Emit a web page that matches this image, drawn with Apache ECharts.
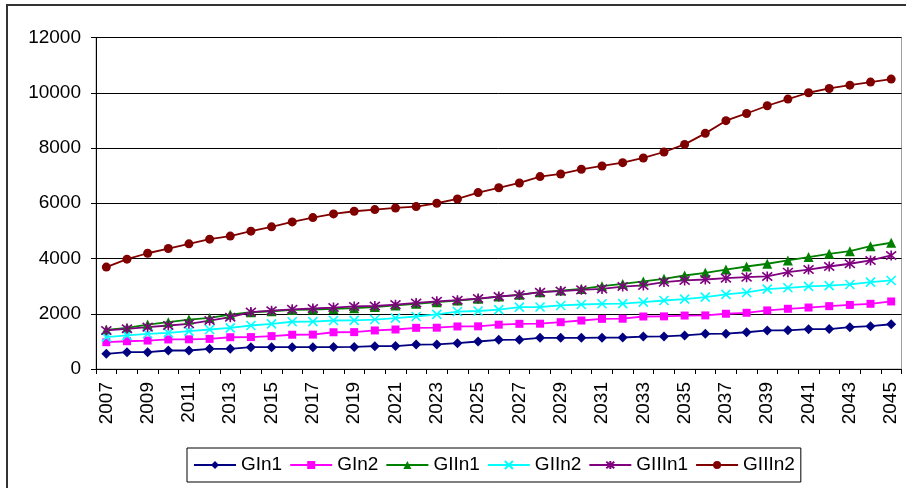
<!DOCTYPE html>
<html>
<head>
<meta charset="utf-8">
<script src="https://cdn.jsdelivr.net/npm/echarts@6/dist/echarts.min.js"></script>
<style>
html,body{margin:0;padding:0;background:#fff;}
#chart{width:906px;height:488px;}
</style>
</head>
<body>
<div id="chart"></div>
<script>
var years = [];
for (var y = 2007; y <= 2045; y++) years.push(String(y));

var yTicks = [0, 2000, 4000, 6000, 8000, 10000, 12000];

var gIn1 = [550, 610, 610, 670, 670, 730, 730, 790, 790, 790, 790, 795, 800, 825, 830, 885, 890, 935, 995, 1055,
  1060, 1130, 1130, 1130, 1135, 1140, 1175, 1180, 1215, 1275, 1280, 1330, 1395, 1400, 1440, 1445, 1515, 1550, 1620];
var gIn2 = [970, 1005, 1030, 1070, 1075, 1090, 1150, 1155, 1190, 1240, 1245, 1330, 1335, 1395, 1430, 1490, 1495, 1540, 1545, 1605,
  1635, 1640, 1695, 1755, 1815, 1820, 1900, 1905, 1935, 1940, 2000, 2035, 2120, 2180, 2225, 2275, 2320, 2360, 2445];
var gIIn1 = [1420, 1490, 1610, 1695, 1790, 1850, 1970, 2055, 2090, 2140, 2150, 2175, 2200, 2240, 2300, 2360, 2420, 2480, 2540, 2620,
  2685, 2780, 2840, 2900, 3000, 3080, 3170, 3265, 3385, 3480, 3600, 3710, 3810, 3930, 4050, 4170, 4265, 4445, 4570];
var gIIn2 = [1155, 1215, 1275, 1310, 1370, 1430, 1490, 1575, 1635, 1710, 1715, 1755, 1760, 1790, 1840, 1900, 1975, 2080, 2100, 2150,
  2240, 2245, 2300, 2335, 2360, 2365, 2420, 2480, 2530, 2600, 2700, 2770, 2890, 2940, 2990, 3020, 3060, 3145, 3205];
var gIIIn1 = [1395, 1455, 1515, 1575, 1635, 1755, 1875, 2060, 2110, 2160, 2190, 2225, 2265, 2280, 2330, 2390, 2450, 2490, 2550, 2625,
  2685, 2780, 2820, 2865, 2900, 2985, 3025, 3145, 3205, 3240, 3290, 3325, 3350, 3505, 3600, 3710, 3810, 3930, 4110];
var gIIIn2 = [3690, 3975, 4190, 4360, 4530, 4700, 4810, 4990, 5145, 5325, 5480, 5615, 5710, 5770, 5830, 5880, 6000, 6155, 6385, 6560,
  6735, 6965, 7060, 7230, 7350, 7470, 7640, 7855, 8130, 8530, 8990, 9250, 9530, 9770, 10000, 10155, 10275, 10385, 10495];

var seriesNames = ['GIn1', 'GIn2', 'GIIn1', 'GIIn2', 'GIIIn1', 'GIIIn2'];
var seriesData = [gIn1, gIn2, gIIn1, gIIn2, gIIIn1, gIIIn2];
var colors = ['#000080', '#FF00FF', '#008000', '#00FFFF', '#800080', '#800000'];

var symbols = ['diamond', 'rect', 'triangle', 'path://M0,0L10,10M10,0L0,10', 'path://M0,0L10,10M10,0L0,10M5,-1L5,11', 'circle'];
var symbolSizes = [10, 8, 10, 9, 10, 9];
var stroked = [false, false, false, true, true, false];

var chart = echarts.init(document.getElementById('chart'), null, {renderer: 'canvas'});

var series = seriesNames.map(function (name, i) {
  return {
    name: name,
    type: 'line',
    data: seriesData[i],
    symbol: symbols[i],
    symbolSize: symbolSizes[i],
    showSymbol: true,
    showAllSymbol: true,
    animation: false,
    lineStyle: {color: colors[i], width: 1.8},
    itemStyle: stroked[i]
      ? {color: colors[i], borderColor: colors[i], borderWidth: 1.6}
      : {color: colors[i], borderColor: colors[i], borderWidth: 0},
    emphasis: {disabled: true}
  };
});

var option = {
  backgroundColor: '#fff',
  animation: false,
  color: colors,
  textStyle: {fontFamily: 'Liberation Sans, Arial, sans-serif', color: '#000'},
  graphic: [{
    type: 'rect',
    shape: {x: 7, y: 5, width: 1000, height: 1000},
    style: {fill: 'none', stroke: '#333', lineWidth: 2},
    z: -1
  }],
  grid: {
    left: 96, right: 4.5, top: 37.5, bottom: 119,
    show: true, borderColor: '#a0a0a0', borderWidth: 1, backgroundColor: 'transparent'
  },
  legend: {
    data: seriesNames,
    left: 187, top: 448,
    orient: 'horizontal',
    itemWidth: 42, itemHeight: 10, itemGap: 7,
    padding: [6, 6, 6, 6],
    borderColor: '#000', borderWidth: 1,
    textStyle: {fontSize: 19, color: '#000', fontFamily: 'Liberation Sans, Arial, sans-serif', lineHeight: 22}
  },
  xAxis: {
    type: 'category',
    data: years,
    boundaryGap: true,
    axisLine: {show: true, lineStyle: {color: '#000', width: 1}},
    axisTick: {show: true, interval: 0, length: 5, lineStyle: {color: '#000'}},
    axisLabel: {interval: 1, rotate: 90, fontSize: 19, color: '#000', margin: 13,
      fontFamily: 'Liberation Sans, Arial, sans-serif'},
    splitLine: {show: false}
  },
  yAxis: {
    type: 'value',
    min: yTicks[0], max: yTicks[yTicks.length - 1], interval: 2000,
    axisLine: {show: true, lineStyle: {color: '#000', width: 1}},
    axisTick: {show: true, length: 5, lineStyle: {color: '#000'}},
    axisLabel: {fontSize: 19, color: '#000', margin: 15, fontFamily: 'Liberation Sans, Arial, sans-serif',
      formatter: function (v) { return String(v); }},
    splitLine: {show: true, lineStyle: {color: '#000', width: 1}}
  },
  series: series
};
chart.setOption(option);
</script>
</body>
</html>
